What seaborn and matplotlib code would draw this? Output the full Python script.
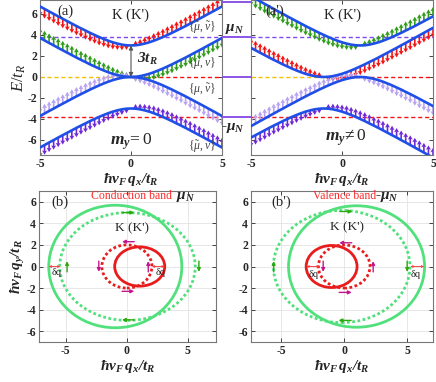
import numpy as np
import matplotlib
matplotlib.use('Agg')
import matplotlib.pyplot as plt
from matplotlib.patches import Ellipse
import seaborn as sns

sns.set_style('ticks')
plt.rcParams['font.family'] = ['Liberation Serif', 'DejaVu Serif']
plt.rcParams['mathtext.fontset'] = 'custom'
plt.rcParams['mathtext.rm'] = 'Liberation Serif'
plt.rcParams['mathtext.it'] = 'Liberation Serif:italic'
plt.rcParams['mathtext.bf'] = 'Liberation Serif:italic:bold'

# ---------------------------------------------------------------- data
q = np.linspace(-5, 5, 41)   # hbar vF qx / tR

# panel (a): m_y = 0
E1_a = [6.72, 6.48, 6.24, 6.01, 5.77, 5.54, 5.31, 5.08, 4.85, 4.63, 4.42, 4.20, 4.00, 3.80, 3.62, 3.45, 3.30, 3.18, 3.08, 3.02, 3.00,
        3.02, 3.08, 3.18, 3.30, 3.45, 3.62, 3.80, 4.00, 4.20, 4.42, 4.63, 4.85, 5.08, 5.31, 5.54, 5.77, 6.01, 6.24, 6.48, 6.72]
E2_a = [3.72, 3.48, 3.24, 3.01, 2.77, 2.54, 2.31, 2.08, 1.85, 1.63, 1.42, 1.20, 1.00, 0.80, 0.62, 0.45, 0.30, 0.18, 0.08, 0.02, 0.00,
        0.02, 0.08, 0.18, 0.30, 0.45, 0.62, 0.80, 1.00, 1.20, 1.42, 1.63, 1.85, 2.08, 2.31, 2.54, 2.77, 3.01, 3.24, 3.48, 3.72]
E3_a = [-3.72, -3.48, -3.24, -3.01, -2.77, -2.54, -2.31, -2.08, -1.85, -1.63, -1.42, -1.20, -1.00, -0.80, -0.62, -0.45, -0.30, -0.18, -0.08, -0.02, 0.00,
        -0.02, -0.08, -0.18, -0.30, -0.45, -0.62, -0.80, -1.00, -1.20, -1.42, -1.63, -1.85, -2.08, -2.31, -2.54, -2.77, -3.01, -3.24, -3.48, -3.72]
E4_a = [-6.72, -6.48, -6.24, -6.01, -5.77, -5.54, -5.31, -5.08, -4.85, -4.63, -4.42, -4.20, -4.00, -3.80, -3.62, -3.45, -3.30, -3.18, -3.08, -3.02, -3.00,
        -3.02, -3.08, -3.18, -3.30, -3.45, -3.62, -3.80, -4.00, -4.20, -4.42, -4.63, -4.85, -5.08, -5.31, -5.54, -5.77, -6.01, -6.24, -6.48, -6.72]

# panel (a'): m_y != 0
E1_b = [7.68, 7.44, 7.20, 6.96, 6.72, 6.48, 6.24, 6.01, 5.77, 5.54, 5.31, 5.08, 4.85, 4.63, 4.42, 4.20, 4.00, 3.80, 3.62, 3.45, 3.30,
        3.18, 3.08, 3.02, 3.00, 3.02, 3.08, 3.18, 3.30, 3.45, 3.62, 3.80, 4.00, 4.20, 4.42, 4.63, 4.85, 5.08, 5.31, 5.54, 5.77]
E2_b = [2.77, 2.54, 2.31, 2.08, 1.85, 1.63, 1.42, 1.20, 1.00, 0.80, 0.62, 0.45, 0.30, 0.18, 0.08, 0.02, 0.00, 0.02, 0.08, 0.18, 0.30,
        0.45, 0.62, 0.80, 1.00, 1.20, 1.42, 1.63, 1.85, 2.08, 2.31, 2.54, 2.77, 3.01, 3.24, 3.48, 3.72, 3.96, 4.20, 4.44, 4.68]
E3_b = [-4.68, -4.44, -4.20, -3.96, -3.72, -3.48, -3.24, -3.01, -2.77, -2.54, -2.31, -2.08, -1.85, -1.63, -1.42, -1.20, -1.00, -0.80, -0.62, -0.45, -0.30,
        -0.18, -0.08, -0.02, 0.00, -0.02, -0.08, -0.18, -0.30, -0.45, -0.62, -0.80, -1.00, -1.20, -1.42, -1.63, -1.85, -2.08, -2.31, -2.54, -2.77]
E4_b = [-5.77, -5.54, -5.31, -5.08, -4.85, -4.63, -4.42, -4.20, -4.00, -3.80, -3.62, -3.45, -3.30, -3.18, -3.08, -3.02, -3.00, -3.02, -3.08, -3.18, -3.30,
        -3.45, -3.62, -3.80, -4.00, -4.20, -4.42, -4.63, -4.85, -5.08, -5.31, -5.54, -5.77, -6.01, -6.24, -6.48, -6.72, -6.96, -7.20, -7.44, -7.68]

spin_sign = [1, -1, 1, -1]          # spin relative to band slope, bands top -> bottom
mu_N = 3.8

# Fermi contours (center x, half-width, half-height)
red_dot = (0.0, 2.05, 2.0)
red_sol_b = (1.05, 2.05, 1.82)
red_sol_bp = (-1.0, 2.02, 1.95)
green_dot_b = (0.05, 5.55, 5.0)
green_sol_b = (-0.95, 5.45, 5.68)
green_dot_bp = (-0.2, 5.42, 5.2)
green_sol_bp = (0.98, 5.4, 5.63)

# ---------------------------------------------------------------- style
blue = '#1f4fe6'
c_red, c_green, c_lav, c_purp = '#f41414', '#2f9c1a', '#b9a2f2', '#7028d8'
c_dash_p, c_yel = '#7d4cf0', '#f2c200'
g_cont, r_cont = '#52e07c', '#e81c1c'
g_arr, m_arr = '#2ea80f', '#c4168f'
W, H = 436, 382

fig = plt.figure(figsize=(W / 100, H / 100), dpi=100)
ax_a = fig.add_axes([40 / W, 1 - 155 / H, 182 / W, 155 / H])
ax_s = fig.add_axes([222 / W, 1 - 155 / H, 29 / W, 155 / H])
ax_ap = fig.add_axes([251 / W, 1 - 155 / H, 182 / W, 155 / H])
ax_b = fig.add_axes([39 / W, 40 / H, 177 / W, 151 / H])
ax_bp = fig.add_axes([251 / W, 40 / H, 182 / W, 151 / H])

tick_font = dict(fontsize=8.5, fontweight='bold')
xlab = r'$\mathbf{\hbar v_F\,q_x/t_R}$'


def spin_arrows(ax, E, s, color):
    E = np.asarray(E)
    slope = np.gradient(E, q)
    keep = np.abs(slope) > 0.02
    dz = np.sign(s * slope) * (0.35 + 0.6 * np.abs(slope))
    ax.quiver(q[keep], E[keep], np.zeros(keep.sum()), dz[keep], color=color,
              angles='xy', scale_units='xy', scale=1, width=0.009,
              headwidth=3.0, headlength=2.6, headaxislength=2.3, zorder=2)


def band_panel(ax, bands, colors):
    for E, s, c in zip(bands, spin_sign, colors):
        spin_arrows(ax, E, s, c)
        sns.lineplot(x=q, y=E, ax=ax, color=blue, lw=1.9, zorder=3)
    ax.axhline(mu_N, color=c_dash_p, ls=(0, (3, 2)), lw=1, zorder=1)
    ax.axhline(-mu_N, color=c_red, ls=(0, (3, 2)), lw=1, zorder=1)
    ax.hlines(0, -5, 0, color=c_yel, ls=(0, (3, 2)), lw=1, zorder=1)
    ax.hlines(0, 0, 5, color=c_red, ls=(0, (3, 2)), lw=1, zorder=1)
    ax.set_xlim(-5, 5)
    ax.set_ylim(-7.43, 7.33)
    ax.set_xticks([-5, 0, 5])
    ax.set_yticks([-6, -4, -2, 0, 2, 4, 6])
    ax.tick_params(direction='in', top=True, right=True, length=3, width=0.6, pad=2)
    ax.set_xticklabels(['-5', '0', '5'], **tick_font)
    ax.set_xlabel(xlab, fontsize=11, labelpad=1)
    ax.text(0, 5.9, "K (K')", ha='center', va='center', fontsize=10.5)
    for sp in ax.spines.values():
        sp.set_color('#777777')
        sp.set_linewidth(0.8)


band_panel(ax_a, [E1_a, E2_a, E3_a, E4_a], [c_red, c_green, c_lav, c_purp])
band_panel(ax_ap, [E1_b, E2_b, E3_b, E4_b], [c_green, c_red, c_lav, c_purp])

ax_a.set_yticklabels(['-6', '-4', '-2', '0', '2', '4', '6'], **tick_font)
ax_ap.set_yticklabels([])
ax_a.set_ylabel(r'$E/t_R$', fontsize=12, labelpad=0)
ax_a.text(-3.6, 6.25, '(a)', ha='center', va='center', fontsize=10.5)
ax_ap.text(-3.7, 6.25, "(a')", ha='center', va='center', fontsize=10.5)
ax_a.annotate('', xy=(0, 3.0), xytext=(0, 0.0),
              arrowprops=dict(arrowstyle='<|-|>', color='#555555', lw=0.8, mutation_scale=6, shrinkA=0, shrinkB=0))
ax_a.text(0.35, 1.75, r'$\mathbf{3t_R}$', ha='left', va='center', fontsize=11)
lab_kw = dict(ha='center', va='center', fontsize=8.5, color='#444444')
ax_a.text(3.9, 4.65, r'$\{\tilde{\mu},\tilde{\nu}\}$', **lab_kw)
ax_a.text(3.9, 1.35, r'$\{\mu,\nu\}$', **lab_kw)
ax_a.text(3.9, -1.25, r'$\{\mu,\tilde{\nu}\}$', **lab_kw)
ax_a.text(3.9, -6.65, r'$\{\tilde{\mu},\nu\}$', **lab_kw)
ax_a.text(0, -6.2, r'$\mathbf{m_y}\!=0$', ha='center', va='center', fontsize=12.5)
ax_ap.text(0.2, -5.75, r'$\mathbf{m_y}\!\neq 0$', ha='center', va='center', fontsize=12.5)

# middle strip with the chemical potential marks
ax_s.set_xlim(0, 1)
ax_s.set_ylim(-7.43, 7.33)
for lvl in [7.15, mu_N, 0, -mu_N]:
    ax_s.axhline(lvl, color='#8a55e6', lw=1.4)
ax_s.text(0.42, 4.6, r'$\mathbf{\mu_N}$', ha='center', va='center', fontsize=11)
ax_s.text(0.38, -4.9, r'-$\mathbf{\mu_N}$', ha='center', va='center', fontsize=11, fontweight='bold')
ax_s.axis('off')


# ---------------------------------------------------------------- Fermi contours
def contour(ax, par, color, dotted):
    cx, rx, ry = par
    ls = (0, (1, 0.9)) if dotted else '-'
    ax.add_patch(Ellipse((cx, 0), 2 * rx, 2 * ry, fill=False, color=color, lw=2.0, ls=ls, zorder=3))


def small_arrow(ax, x0, y0, x1, y1, color):
    ax.annotate('', xy=(x1, y1), xytext=(x0, y0),
                arrowprops=dict(arrowstyle='-|>', color=color, lw=1.0, mutation_scale=5, shrinkA=0, shrinkB=0), zorder=4)


def fermi_panel(ax, parts, xlim):
    for par, c, d in parts:
        contour(ax, par, c, d)
    ax.set_xlim(*xlim)
    ax.set_ylim(-7.0, 7.0)
    ax.set_xticks([-5, 0, 5])
    ax.set_yticks([-6, -4, -2, 0, 2, 4, 6])
    ax.set_xticklabels(['-5', '0', '5'], **tick_font)
    ax.set_yticklabels(['-6', '-4', '-2', '0', '2', '4', '6'], **tick_font)
    ax.grid(color='#e3e3e3', lw=0.6)
    ax.tick_params(direction='in', top=True, right=True, length=3, width=0.6, pad=2)
    ax.set_xlabel(xlab, fontsize=11, labelpad=1)
    for sp in ax.spines.values():
        sp.set_color('#777777')
        sp.set_linewidth(0.8)


fermi_panel(ax_b, [(green_dot_b, g_cont, True), (green_sol_b, g_cont, False),
                   (red_dot, r_cont, True), (red_sol_b, r_cont, False)], (-7.2, 7.3))
fermi_panel(ax_bp, [(green_dot_bp, g_cont, True), (green_sol_bp, g_cont, False),
                    (red_dot, r_cont, True), (red_sol_bp, r_cont, False)], (-7.4, 7.05))
ax_b.set_ylabel(r'$\mathbf{\hbar v_F\,q_y/t_R}$', fontsize=11, labelpad=0)

# (b)
ax_b.text(-5.5, 6.0, '(b)', ha='center', va='center', fontsize=10.5)
ax_b.text(0.4, 6.5, 'Conduction band', ha='center', va='center', fontsize=8.5, color='#ff2a2a')
ax_b.text(4.8, 6.4, r'$\mathbf{\mu_N}$', ha='center', va='center', fontsize=11)
ax_b.text(0.4, 3.5, "K (K')", ha='center', va='center', fontsize=9.5)
small_arrow(ax_b, -0.4, 5.0, 0.6, 5.0, g_arr)
small_arrow(ax_b, 0.6, -4.95, -0.4, -4.95, g_arr)
small_arrow(ax_b, -4.9, -0.5, -4.9, 0.5, g_arr)
small_arrow(ax_b, 5.9, 0.5, 5.9, -0.5, g_arr)
small_arrow(ax_b, 0.6, 2.3, -0.4, 2.3, m_arr)
small_arrow(ax_b, -0.4, -2.3, 0.6, -2.3, m_arr)
small_arrow(ax_b, -2.3, 0.5, -2.3, -0.5, m_arr)
small_arrow(ax_b, 1.75, -0.5, 1.75, 0.5, m_arr)
ax_b.annotate('', xy=(-5.45, 0), xytext=(-6.4, 0),
              arrowprops=dict(arrowstyle='<|-|>', color='#ff4040', lw=0.7, mutation_scale=3, shrinkA=0, shrinkB=0))
ax_b.annotate('', xy=(3.1, 0), xytext=(2.05, 0),
              arrowprops=dict(arrowstyle='<|-|>', color='#ff4040', lw=0.7, mutation_scale=3, shrinkA=0, shrinkB=0))
ax_b.text(-5.75, -0.6, 'δq', ha='center', va='center', fontsize=7.5)
ax_b.text(2.75, -0.6, 'δq', ha='center', va='center', fontsize=7.5)

# (b')
ax_bp.text(-5.0, 6.0, "(b')", ha='center', va='center', fontsize=10.5)
ax_bp.text(0.0, 6.5, 'Valence band', ha='center', va='center', fontsize=8.5, color='#ff2a2a')
ax_bp.text(3.4, 6.4, r'-$\mathbf{\mu_N}$', ha='center', va='center', fontsize=11, fontweight='bold')
ax_bp.text(0.2, 3.6, "K (K')", ha='center', va='center', fontsize=9.5)
small_arrow(ax_bp, -0.35, 5.1, 0.65, 5.1, g_arr)
small_arrow(ax_bp, 0.55, -5.0, -0.45, -5.0, g_arr)
small_arrow(ax_bp, -5.6, -0.5, -5.6, 0.5, g_arr)
small_arrow(ax_bp, 5.0, 0.5, 5.0, -0.5, g_arr)
small_arrow(ax_bp, 0.6, 2.2, -0.4, 2.2, m_arr)
small_arrow(ax_bp, -0.4, -2.4, 0.6, -2.4, m_arr)
small_arrow(ax_bp, -1.67, 0.5, -1.67, -0.5, m_arr)
small_arrow(ax_bp, 2.3, -0.5, 2.3, 0.5, m_arr)
ax_bp.annotate('', xy=(-1.95, 0), xytext=(-3.0, 0),
               arrowprops=dict(arrowstyle='<|-|>', color='#ff4040', lw=0.7, mutation_scale=3, shrinkA=0, shrinkB=0))
ax_bp.annotate('', xy=(6.35, 0), xytext=(5.25, 0),
               arrowprops=dict(arrowstyle='<|-|>', color='#ff4040', lw=0.7, mutation_scale=3, shrinkA=0, shrinkB=0))
ax_bp.text(-2.45, -0.75, 'δq', ha='center', va='center', fontsize=7.5)
ax_bp.text(5.7, -0.75, 'δq', ha='center', va='center', fontsize=7.5)

fig.savefig('out.png', dpi=100)
